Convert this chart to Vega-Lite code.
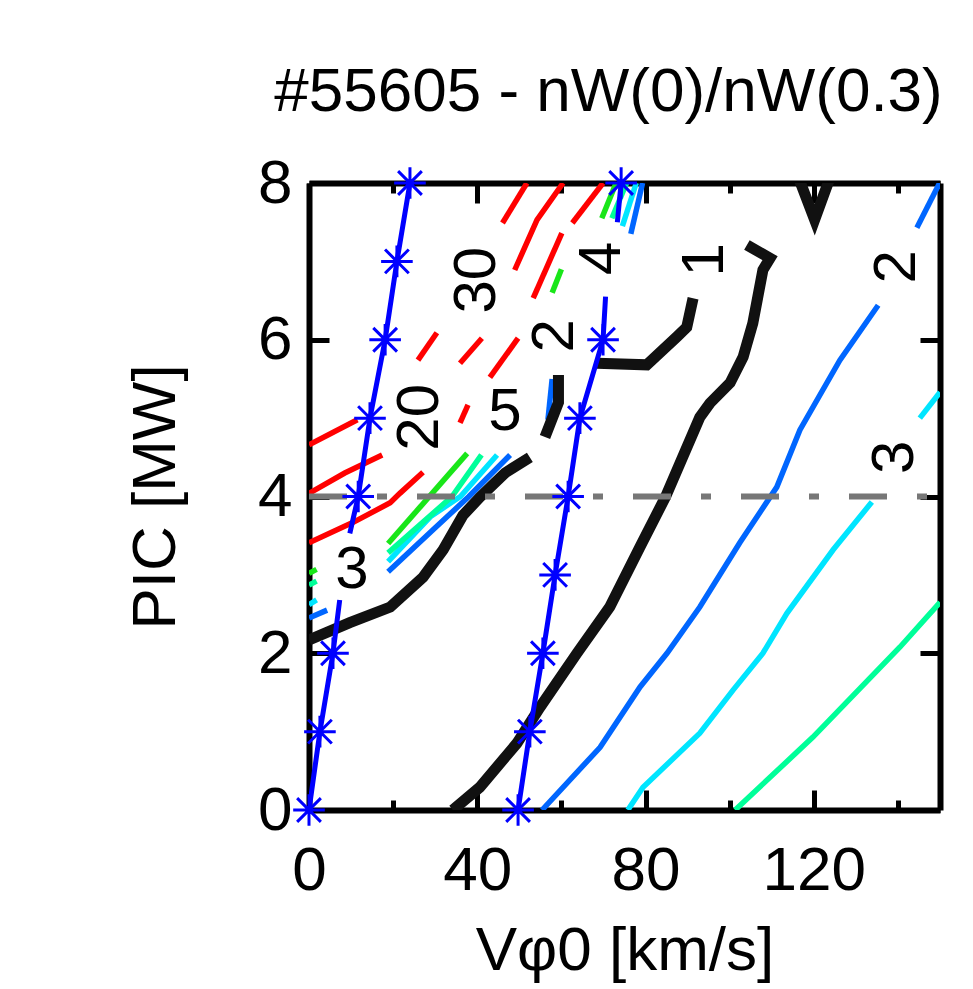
{
  "$schema": "https://vega.github.io/schema/vega-lite/v6.json",
  "width": 631,
  "height": 627,
  "autosize": {"type": "none"},
  "padding": {"left": 309, "top": 183, "right": 33, "bottom": 179},
  "background": "white",
  "config": {"view": {"stroke": null}, "font": "Liberation Sans", "axis": {"grid": false}},
  "title": {"text": "#55605 - nW(0)/nW(0.3)", "fontSize": 62, "font": "Liberation Sans", "fontWeight": "normal", "color": "black", "anchor": "middle", "offset": 28, "dx": -16},
  "datasets": {
    "contours": [
      {"seg": "k_main", "lev": "1", "i": 0, "v": 34.2, "p": 0},
      {"seg": "k_main", "lev": "1", "i": 1, "v": 40.6, "p": 0.29},
      {"seg": "k_main", "lev": "1", "i": 2, "v": 49.4, "p": 0.85},
      {"seg": "k_main", "lev": "1", "i": 3, "v": 54.9, "p": 1.31},
      {"seg": "k_main", "lev": "1", "i": 4, "v": 63.7, "p": 2.0},
      {"seg": "k_main", "lev": "1", "i": 5, "v": 71.5, "p": 2.59},
      {"seg": "k_main", "lev": "1", "i": 6, "v": 78.7, "p": 3.36},
      {"seg": "k_main", "lev": "1", "i": 7, "v": 84.8, "p": 4.0},
      {"seg": "k_main", "lev": "1", "i": 8, "v": 92.9, "p": 5.01},
      {"seg": "k_main", "lev": "1", "i": 9, "v": 95.3, "p": 5.19},
      {"seg": "k_main", "lev": "1", "i": 10, "v": 100.1, "p": 5.45},
      {"seg": "k_main", "lev": "1", "i": 11, "v": 103.2, "p": 5.78},
      {"seg": "k_main", "lev": "1", "i": 12, "v": 105.5, "p": 6.21},
      {"seg": "k_main", "lev": "1", "i": 13, "v": 107.9, "p": 6.89},
      {"seg": "k_main", "lev": "1", "i": 14, "v": 109.6, "p": 7.04},
      {"seg": "k_main", "lev": "1", "i": 15, "v": 104.1, "p": 7.21},
      {"seg": "k_la", "lev": "1", "i": 0, "v": 0, "p": 2.17},
      {"seg": "k_la", "lev": "1", "i": 1, "v": 9.7, "p": 2.39},
      {"seg": "k_la", "lev": "1", "i": 2, "v": 19.3, "p": 2.59},
      {"seg": "k_la", "lev": "1", "i": 3, "v": 27.1, "p": 2.97},
      {"seg": "k_la", "lev": "1", "i": 4, "v": 31.9, "p": 3.32},
      {"seg": "k_la", "lev": "1", "i": 5, "v": 36.6, "p": 3.76},
      {"seg": "k_la", "lev": "1", "i": 6, "v": 40.6, "p": 3.99},
      {"seg": "k_la", "lev": "1", "i": 7, "v": 46.6, "p": 4.3},
      {"seg": "k_la", "lev": "1", "i": 8, "v": 52.5, "p": 4.5},
      {"seg": "k_lb", "lev": "1", "i": 0, "v": 56.1, "p": 4.76},
      {"seg": "k_lb", "lev": "1", "i": 1, "v": 59.3, "p": 5.2},
      {"seg": "k_lb", "lev": "1", "i": 2, "v": 59.3, "p": 5.55},
      {"seg": "k_lc", "lev": "1", "i": 0, "v": 68.5, "p": 5.7},
      {"seg": "k_lc", "lev": "1", "i": 1, "v": 80.3, "p": 5.68},
      {"seg": "k_lc", "lev": "1", "i": 2, "v": 87.5, "p": 6.04},
      {"seg": "k_lc", "lev": "1", "i": 3, "v": 89.8, "p": 6.16},
      {"seg": "k_lc", "lev": "1", "i": 4, "v": 91.3, "p": 6.53},
      {"seg": "k_v", "lev": "1", "i": 0, "v": 115.8, "p": 8.15},
      {"seg": "k_v", "lev": "1", "i": 1, "v": 120.2, "p": 7.53},
      {"seg": "k_v", "lev": "1", "i": 2, "v": 124.4, "p": 8.15},

      {"seg": "b_r1", "lev": "2", "i": 0, "v": 55.4, "p": 0},
      {"seg": "b_r1", "lev": "2", "i": 1, "v": 69.2, "p": 0.8},
      {"seg": "b_r1", "lev": "2", "i": 2, "v": 78.7, "p": 1.57},
      {"seg": "b_r1", "lev": "2", "i": 3, "v": 85.1, "p": 2.0},
      {"seg": "b_r1", "lev": "2", "i": 4, "v": 92.9, "p": 2.59},
      {"seg": "b_r1", "lev": "2", "i": 5, "v": 102.4, "p": 3.41},
      {"seg": "b_r1", "lev": "2", "i": 6, "v": 111.2, "p": 4.12},
      {"seg": "b_r1", "lev": "2", "i": 7, "v": 116.7, "p": 4.85},
      {"seg": "b_r1", "lev": "2", "i": 8, "v": 126.2, "p": 5.74},
      {"seg": "b_r1", "lev": "2", "i": 9, "v": 135.3, "p": 6.44},
      {"seg": "b_r2", "lev": "2", "i": 0, "v": 144.5, "p": 7.43},
      {"seg": "b_r2", "lev": "2", "i": 1, "v": 150, "p": 8.01},
      {"seg": "b_s", "lev": "2", "i": 0, "v": 0, "p": 2.45},
      {"seg": "b_s", "lev": "2", "i": 1, "v": 4.3, "p": 2.55},
      {"seg": "b_b", "lev": "2", "i": 0, "v": 18.8, "p": 3.04},
      {"seg": "b_b", "lev": "2", "i": 1, "v": 30, "p": 3.6},
      {"seg": "b_b", "lev": "2", "i": 2, "v": 38, "p": 4.0},
      {"seg": "b_b", "lev": "2", "i": 3, "v": 47.8, "p": 4.53},
      {"seg": "b_p", "lev": "2", "i": 0, "v": 56.8, "p": 4.98},
      {"seg": "b_p", "lev": "2", "i": 1, "v": 57.8, "p": 5.5},
      {"seg": "b_t", "lev": "2", "i": 0, "v": 76.5, "p": 7.35},
      {"seg": "b_t", "lev": "2", "i": 1, "v": 79.3, "p": 8.0},

      {"seg": "c_r1", "lev": "3", "i": 0, "v": 75.8, "p": 0},
      {"seg": "c_r1", "lev": "3", "i": 1, "v": 79.4, "p": 0.29},
      {"seg": "c_r1", "lev": "3", "i": 2, "v": 92.9, "p": 0.98},
      {"seg": "c_r1", "lev": "3", "i": 3, "v": 100.8, "p": 1.53},
      {"seg": "c_r1", "lev": "3", "i": 4, "v": 107.9, "p": 2.0},
      {"seg": "c_r1", "lev": "3", "i": 5, "v": 113.6, "p": 2.51},
      {"seg": "c_r1", "lev": "3", "i": 6, "v": 124.6, "p": 3.32},
      {"seg": "c_r1", "lev": "3", "i": 7, "v": 133.8, "p": 3.93},
      {"seg": "c_r2", "lev": "3", "i": 0, "v": 145.2, "p": 5.0},
      {"seg": "c_r2", "lev": "3", "i": 1, "v": 150, "p": 5.33},
      {"seg": "c_s", "lev": "3", "i": 0, "v": 0, "p": 2.62},
      {"seg": "c_s", "lev": "3", "i": 1, "v": 1.8, "p": 2.68},
      {"seg": "c_b", "lev": "3", "i": 0, "v": 18.8, "p": 3.17},
      {"seg": "c_b", "lev": "3", "i": 1, "v": 29, "p": 3.75},
      {"seg": "c_b", "lev": "3", "i": 2, "v": 36, "p": 4.0},
      {"seg": "c_b", "lev": "3", "i": 3, "v": 44.7, "p": 4.53},
      {"seg": "c_t", "lev": "3", "i": 0, "v": 74.5, "p": 7.45},
      {"seg": "c_t", "lev": "3", "i": 1, "v": 77.8, "p": 8.0},

      {"seg": "g_r", "lev": "4", "i": 0, "v": 101.3, "p": 0},
      {"seg": "g_r", "lev": "4", "i": 1, "v": 119.8, "p": 0.93},
      {"seg": "g_r", "lev": "4", "i": 2, "v": 140.5, "p": 2.08},
      {"seg": "g_r", "lev": "4", "i": 3, "v": 150, "p": 2.65},
      {"seg": "g_s", "lev": "4", "i": 0, "v": 0, "p": 2.87},
      {"seg": "g_s", "lev": "4", "i": 1, "v": 1.8, "p": 2.92},
      {"seg": "g_b", "lev": "4", "i": 0, "v": 18.8, "p": 3.28},
      {"seg": "g_b", "lev": "4", "i": 1, "v": 34, "p": 4.0},
      {"seg": "g_b", "lev": "4", "i": 2, "v": 41, "p": 4.53},
      {"seg": "g_t", "lev": "4", "i": 0, "v": 72, "p": 7.55},
      {"seg": "g_t", "lev": "4", "i": 1, "v": 75.5, "p": 8.0},

      {"seg": "l_s", "lev": "5", "i": 0, "v": 0, "p": 3.02},
      {"seg": "l_s", "lev": "5", "i": 1, "v": 1.8, "p": 3.07},
      {"seg": "l_b", "lev": "5", "i": 0, "v": 18.8, "p": 3.4},
      {"seg": "l_b", "lev": "5", "i": 1, "v": 37.6, "p": 4.55},
      {"seg": "l_p", "lev": "5", "i": 0, "v": 57.8, "p": 6.6},
      {"seg": "l_p", "lev": "5", "i": 1, "v": 60.0, "p": 6.9},
      {"seg": "l_t", "lev": "5", "i": 0, "v": 69.6, "p": 7.55},
      {"seg": "l_t", "lev": "5", "i": 1, "v": 73.0, "p": 8.0},

      {"seg": "rI", "lev": "hi", "i": 0, "v": 0, "p": 4.66},
      {"seg": "rI", "lev": "hi", "i": 1, "v": 11.5, "p": 4.98},
      {"seg": "rJ", "lev": "hi", "i": 0, "v": 0, "p": 4.04},
      {"seg": "rJ", "lev": "hi", "i": 1, "v": 8.5, "p": 4.3},
      {"seg": "rJ", "lev": "hi", "i": 2, "v": 17.4, "p": 4.53},
      {"seg": "rK", "lev": "hi", "i": 0, "v": 0, "p": 3.41},
      {"seg": "rK", "lev": "hi", "i": 1, "v": 10.5, "p": 3.67},
      {"seg": "rK", "lev": "hi", "i": 2, "v": 19.3, "p": 3.92},
      {"seg": "rK", "lev": "hi", "i": 3, "v": 21.6, "p": 4.04},
      {"seg": "rK", "lev": "hi", "i": 4, "v": 27.1, "p": 4.31},
      {"seg": "rH", "lev": "hi", "i": 0, "v": 35.9, "p": 4.94},
      {"seg": "rH", "lev": "hi", "i": 1, "v": 37.8, "p": 5.17},
      {"seg": "rG", "lev": "hi", "i": 0, "v": 25.9, "p": 5.74},
      {"seg": "rG", "lev": "hi", "i": 1, "v": 30.4, "p": 6.09},
      {"seg": "rF", "lev": "hi", "i": 0, "v": 35.9, "p": 5.7},
      {"seg": "rF", "lev": "hi", "i": 1, "v": 41.1, "p": 6.02},
      {"seg": "rE", "lev": "hi", "i": 0, "v": 43.0, "p": 5.52},
      {"seg": "rE", "lev": "hi", "i": 1, "v": 49.7, "p": 6.02},
      {"seg": "rA", "lev": "hi", "i": 0, "v": 46.0, "p": 7.49},
      {"seg": "rA", "lev": "hi", "i": 1, "v": 51.8, "p": 8.0},
      {"seg": "rB", "lev": "hi", "i": 0, "v": 48.9, "p": 6.89},
      {"seg": "rB", "lev": "hi", "i": 1, "v": 54.2, "p": 7.53},
      {"seg": "rB", "lev": "hi", "i": 2, "v": 60.4, "p": 8.0},
      {"seg": "rC", "lev": "hi", "i": 0, "v": 53.3, "p": 6.53},
      {"seg": "rC", "lev": "hi", "i": 1, "v": 60.1, "p": 7.36},
      {"seg": "rD", "lev": "hi", "i": 0, "v": 62.6, "p": 7.49},
      {"seg": "rD", "lev": "hi", "i": 1, "v": 69.9, "p": 8.0}
    ],
    "scan": [
      {"seg": "A1", "i": 0, "v": 0, "p": 0},
      {"seg": "A1", "i": 1, "v": 2.6, "p": 1},
      {"seg": "A1", "i": 2, "v": 5.7, "p": 2},
      {"seg": "A1", "i": 3, "v": 7.3, "p": 2.68},
      {"seg": "A2", "i": 0, "v": 9.7, "p": 3.53},
      {"seg": "A2", "i": 1, "v": 11.7, "p": 4},
      {"seg": "A2", "i": 2, "v": 14.5, "p": 5},
      {"seg": "A2", "i": 3, "v": 18.1, "p": 6},
      {"seg": "A2", "i": 4, "v": 20.9, "p": 7},
      {"seg": "A2", "i": 5, "v": 24.0, "p": 8},
      {"seg": "B1", "i": 0, "v": 49.7, "p": 0},
      {"seg": "B1", "i": 1, "v": 52.5, "p": 1},
      {"seg": "B1", "i": 2, "v": 55.6, "p": 2},
      {"seg": "B1", "i": 3, "v": 58.5, "p": 3},
      {"seg": "B1", "i": 4, "v": 61.6, "p": 4},
      {"seg": "B1", "i": 5, "v": 64.4, "p": 5},
      {"seg": "B1", "i": 6, "v": 69.9, "p": 6},
      {"seg": "B1", "i": 7, "v": 70.5, "p": 6.55},
      {"seg": "B2", "i": 0, "v": 73.3, "p": 7.5},
      {"seg": "B2", "i": 1, "v": 74.2, "p": 8}
    ],
    "stars": [
      {"v": 0, "p": 0}, {"v": 2.6, "p": 1}, {"v": 5.7, "p": 2}, {"v": 11.7, "p": 4},
      {"v": 14.5, "p": 5}, {"v": 18.1, "p": 6}, {"v": 20.9, "p": 7}, {"v": 24.0, "p": 8},
      {"v": 49.7, "p": 0}, {"v": 52.5, "p": 1}, {"v": 55.6, "p": 2}, {"v": 58.5, "p": 3},
      {"v": 61.6, "p": 4}, {"v": 64.4, "p": 5}, {"v": 69.9, "p": 6}, {"v": 74.2, "p": 8}
    ],
    "labels_up": [
      {"txt": "5", "v": 46.6, "p": 5.08},
      {"txt": "3", "v": 10.2, "p": 3.06}
    ],
    "labels_rot": [
      {"txt": "20", "v": 26.4, "p": 5.01},
      {"txt": "30", "v": 39.9, "p": 6.76},
      {"txt": "2", "v": 58.5, "p": 6.05},
      {"txt": "4", "v": 69.6, "p": 7.04},
      {"txt": "1", "v": 94.1, "p": 7.02},
      {"txt": "2", "v": 139.8, "p": 6.93},
      {"txt": "3", "v": 139.3, "p": 4.5}
    ],
    "ref": [{"p": 4, "v0": 0, "v1": 150}]
  },
  "layer": [
    {
      "data": {"name": "contours"},
      "transform": [{"filter": "datum.lev !== '1'"}],
      "mark": {"type": "line", "strokeWidth": 5.5, "clip": true},
      "encoding": {
        "x": {"field": "v", "type": "quantitative", "scale": {"domain": [0, 150], "nice": false},
          "axis": {"orient": "bottom", "values": [0, 20, 40, 60, 80, 100, 120, 140],
            "labelExpr": "datum.value % 40 === 0 ? datum.label : ''",
            "tickSize": {"condition": {"test": "datum.value % 40 === 0", "value": -20}, "value": -10},
            "tickWidth": 5, "tickColor": "black", "domainColor": "black", "domainWidth": 6,
            "labelFontSize": 62, "labelFont": "Liberation Sans", "labelColor": "black", "labelPadding": 50,
            "labelOverlap": false, "labelFlush": false,
            "title": "Vφ0 [km/s]", "titleFontSize": 62, "titleFont": "Liberation Sans", "titleFontWeight": "normal", "titleColor": "black", "titlePadding": 9}},
        "y": {"field": "p", "type": "quantitative", "scale": {"domain": [0, 8], "nice": false},
          "axis": {"orient": "left", "values": [0, 2, 4, 6, 8], "tickSize": -20,
            "tickWidth": 5, "tickColor": "black", "domainColor": "black", "domainWidth": 6,
            "labelFontSize": 62, "labelFont": "Liberation Sans", "labelColor": "black", "labelPadding": 37,
            "labelOverlap": false, "labelFlush": false,
            "title": "PIC [MW]", "titleFontSize": 62, "titleFont": "Liberation Sans", "titleFontWeight": "normal", "titleColor": "black", "titlePadding": 70}},
        "detail": {"field": "seg"},
        "order": {"field": "i"},
        "color": {"field": "lev", "type": "nominal", "legend": null,
          "scale": {"domain": ["2", "3", "4", "5", "hi"], "range": ["#0066ff", "#00e5ff", "#00ff99", "#19e619", "#ff0000"]}}
      }
    },
    {
      "data": {"name": "contours"},
      "transform": [{"filter": "datum.lev === '1'"}],
      "mark": {"type": "line", "strokeWidth": 11, "color": "#111111", "clip": true},
      "encoding": {
        "x": {"field": "v", "type": "quantitative", "scale": {"domain": [0, 150], "nice": false}, "axis": null},
        "y": {"field": "p", "type": "quantitative", "scale": {"domain": [0, 8], "nice": false}, "axis": null},
        "detail": {"field": "seg"},
        "order": {"field": "i"}
      }
    },
    {
      "data": {"name": "ref"},
      "mark": {"type": "rule", "color": "#777777", "strokeWidth": 6, "strokeDash": [38, 30, 10, 30]},
      "encoding": {
        "x": {"field": "v0", "type": "quantitative", "scale": {"domain": [0, 150], "nice": false},
          "axis": {"orient": "top", "values": [0, 20, 40, 60, 80, 100, 120, 140], "labels": false, "title": null,
            "tickSize": {"condition": {"test": "datum.value % 40 === 0", "value": -20}, "value": -10},
            "tickWidth": 5, "tickColor": "black", "domainColor": "black", "domainWidth": 6}},
        "x2": {"field": "v1"},
        "y": {"field": "p", "type": "quantitative", "scale": {"domain": [0, 8], "nice": false},
          "axis": {"orient": "right", "values": [0, 2, 4, 6, 8], "labels": false, "title": null, "tickSize": -20,
            "tickWidth": 5, "tickColor": "black", "domainColor": "black", "domainWidth": 6}}
      }
    },
    {
      "data": {"name": "scan"},
      "mark": {"type": "line", "strokeWidth": 5, "color": "#0000ff", "clip": true},
      "encoding": {
        "x": {"field": "v", "type": "quantitative", "scale": {"domain": [0, 150], "nice": false}, "axis": null},
        "y": {"field": "p", "type": "quantitative", "scale": {"domain": [0, 8], "nice": false}, "axis": null},
        "detail": {"field": "seg"},
        "order": {"field": "i"}
      }
    },
    {
      "data": {"name": "stars"},
      "mark": {"type": "point", "shape": "M0,-1L0,1M-1,0L1,0M-0.75,-0.75L0.75,0.75M-0.75,0.75L0.75,-0.75", "filled": false, "size": 1000, "stroke": "#0000ff", "strokeWidth": 3, "opacity": 1},
      "encoding": {
        "x": {"field": "v", "type": "quantitative", "scale": {"domain": [0, 150], "nice": false}, "axis": null},
        "y": {"field": "p", "type": "quantitative", "scale": {"domain": [0, 8], "nice": false}, "axis": null}
      }
    },
    {
      "data": {"name": "labels_up"},
      "mark": {"type": "text", "fontSize": 60, "font": "Liberation Sans", "color": "black", "align": "center", "baseline": "middle"},
      "encoding": {
        "x": {"field": "v", "type": "quantitative", "scale": {"domain": [0, 150], "nice": false}, "axis": null},
        "y": {"field": "p", "type": "quantitative", "scale": {"domain": [0, 8], "nice": false}, "axis": null},
        "text": {"field": "txt"}
      }
    },
    {
      "data": {"name": "labels_rot"},
      "mark": {"type": "text", "fontSize": 60, "font": "Liberation Sans", "color": "black", "align": "center", "baseline": "middle", "angle": 270},
      "encoding": {
        "x": {"field": "v", "type": "quantitative", "scale": {"domain": [0, 150], "nice": false}, "axis": null},
        "y": {"field": "p", "type": "quantitative", "scale": {"domain": [0, 8], "nice": false}, "axis": null},
        "text": {"field": "txt"}
      }
    }
  ],
  "resolve": {"axis": {"x": "independent", "y": "independent"}}
}
